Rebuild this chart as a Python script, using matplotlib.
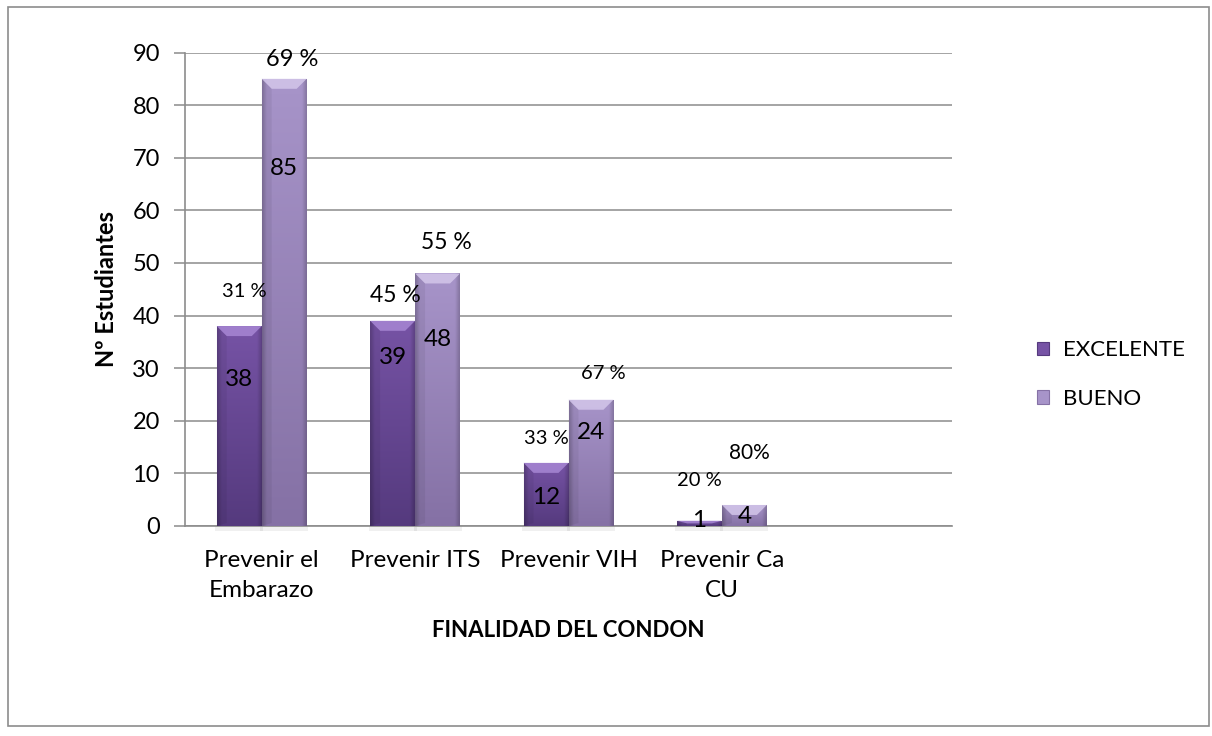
import numpy as np
import matplotlib
matplotlib.use("Agg")
import matplotlib.pyplot as plt
from matplotlib.patches import Rectangle, Polygon, Patch
from matplotlib.colors import to_rgb

plt.rcParams["font.family"] = ["Lato", "DejaVu Sans"]

categories = ["Prevenir el\nEmbarazo", "Prevenir ITS", "Prevenir VIH", "Prevenir Ca\nCU"]
excelente = [38, 39, 12, 1]
bueno = [85, 48, 24, 4]
pct_excelente = ["31 %", "45 %", "33 %", "20 %"]
pct_bueno = ["69 %", "55 %", "67 %", "80%"]

# where the labels sit (data units), they were placed by hand on the chart
val_y_exc = [27.8, 32.1, 5.5, 1.0]
val_y_bue = [68.0, 35.4, 17.7, 1.9]
pct_y_exc = [44.5, 43.9, 16.7, 8.7]
pct_y_bue = [88.6, 53.8, 28.9, 13.9]
pct_dx_exc = [0.03, 0.02, 0.0, 0.0]
pct_dx_bue = [0.05, 0.06, 0.08, 0.03]
pct_fs_exc = [14.5, 16.5, 14.5, 14.5]
pct_fs_bue = [17, 16.5, 14.5, 15]

series = [
    ("EXCELENTE", excelente, "#7653a5", "#553a7e", "#a787d4"),
    ("BUENO", bueno, "#a794c9", "#8571a5", "#d3c6ea"),
]

fig = plt.figure(figsize=(12.12, 7.36), dpi=100)
ax = fig.add_axes([185 / 1212, 1 - 526 / 736, 767 / 1212, 473.5 / 736])

# chart border
fig.patches.append(Rectangle((8 / 1212, 1 - 726 / 736), 1201 / 1212, 719 / 736,
                             transform=fig.transFigure, fill=False,
                             edgecolor="#8c8c8c", lw=1.2, zorder=0))

w = 0.293
x = np.arange(len(categories))


def bevel_bar(ax, x0, h, top_c, bot_c, hi_c):
    x1 = x0 + w
    if h <= 0:
        return
    # vertical gradient with darker side edges
    ny, nx = 64, 32
    t = np.linspace(0, 1, ny)[:, None]
    top = np.array(to_rgb(top_c))
    bot = np.array(to_rgb(bot_c))
    col = top[None, None, :] * (1 - t[..., None]) + bot[None, None, :] * t[..., None]
    u = np.linspace(-1, 1, nx)[None, :]
    edge = 1 - 0.18 * np.clip((np.abs(u) - 0.8) / 0.2, 0, 1)
    img = np.clip(col * edge[..., None], 0, 1)
    rect = Rectangle((x0, 0), w, h, facecolor="none", edgecolor="none")
    ax.add_patch(rect)
    im = ax.imshow(img, extent=(x0, x1, 0, h), aspect="auto", zorder=3,
                   interpolation="bilinear")
    im.set_clip_path(rect)
    # bevelled top face
    bh = min(1.9, h / 2)
    bx = min(0.065, w / 4)
    ax.add_patch(Polygon([(x0, h), (x1, h), (x1 - bx, h - bh), (x0 + bx, h - bh)],
                         closed=True, facecolor=hi_c, edgecolor="none",
                         alpha=0.85, zorder=4))
    ax.add_patch(Polygon([(x0, h), (x0 + bx, h - bh), (x0 + bx, bh * 0.3), (x0, 0)],
                         closed=True, facecolor="black", edgecolor="none",
                         alpha=0.06, zorder=4))
    # soft shadow at the base
    ax.add_patch(Rectangle((x0 - 0.01, -0.9), w + 0.02, 0.9, facecolor="#000000",
                           alpha=0.06, edgecolor="none", zorder=2, clip_on=False))


for k, (name, vals, c_top, c_bot, c_hi) in enumerate(series):
    offs = -w if k == 0 else 0.0
    for i, v in enumerate(vals):
        bevel_bar(ax, x[i] + offs, v, c_top, c_bot, c_hi)

for i in range(len(categories)):
    ax.text(x[i] - w / 2, val_y_exc[i], str(excelente[i]), ha="center", va="center",
            fontsize=17.5, color="black", zorder=6)
    ax.text(x[i] + w / 2, val_y_bue[i], str(bueno[i]), ha="center", va="center",
            fontsize=17.5, color="black", zorder=6)
    ax.text(x[i] - w / 2 + pct_dx_exc[i], pct_y_exc[i], pct_excelente[i], ha="center",
            va="center", fontsize=pct_fs_exc[i], color="black", zorder=6)
    ax.text(x[i] + w / 2 + pct_dx_bue[i], pct_y_bue[i], pct_bueno[i], ha="center",
            va="center", fontsize=pct_fs_bue[i], color="black", zorder=6)

ax.set_xlim(-0.5, 4.5)
ax.set_ylim(0, 90)
ax.set_yticks(range(0, 91, 10))
ax.set_xticks(x)
ax.set_xticklabels(categories, fontsize=17.5, linespacing=1.55)
ax.tick_params(axis="x", length=0, pad=17)
ax.tick_params(axis="y", length=8, width=1.1, color="#8c8c8c", labelsize=17, pad=10)
ax.grid(axis="y", color="#8c8c8c", lw=1.1, zorder=0)
ax.set_axisbelow(True)
for s in ("top", "right"):
    ax.spines[s].set_visible(False)
for s in ("left", "bottom"):
    ax.spines[s].set_color("#8c8c8c")
    ax.spines[s].set_linewidth(1.2)

ax.set_ylabel("Nº Estudiantes", fontsize=17, fontweight="bold", labelpad=10)
ax.set_xlabel("FINALIDAD DEL CONDON", fontsize=16, fontweight="bold", labelpad=14)

handles = [Patch(facecolor=s[2], edgecolor=s[3], lw=0.8) for s in series]
fig.legend(handles, [s[0] for s in series], loc="center left",
           bbox_to_anchor=(1037 / 1212, 1 - 374.5 / 736), frameon=False,
           fontsize=16, handlelength=0.55, handleheight=0.55, handletextpad=0.6,
           labelspacing=1.3, borderpad=0, borderaxespad=0)

fig.savefig("out.png", dpi=100)
